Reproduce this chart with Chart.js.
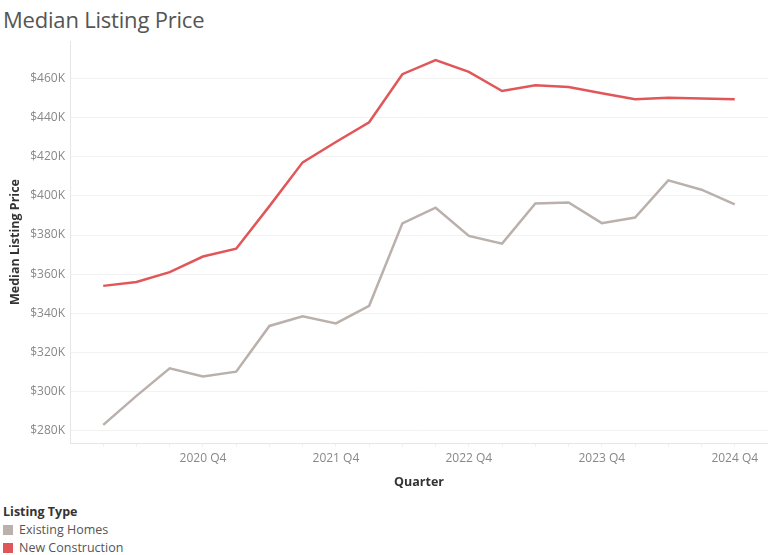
<!DOCTYPE html>
<html>
<head>
<meta charset="utf-8">
<script src="https://cdn.jsdelivr.net/npm/chart.js@4"></script>
<style>
  html, body { margin: 0; padding: 0; background: #fff; }
  body { width: 768px; height: 555px; position: relative; overflow: hidden; font-family: "Open Sans", sans-serif; }
  #title { position: absolute; left: 3px; top: 4px; font-size: 22px; color: #555; font-weight: 400; letter-spacing: -0.2px; }
  #wrap { position: absolute; left: 0; top: 0; width: 768px; height: 500px; }
  #legend { position: absolute; left: 3px; top: 503px; font-size: 12.5px; color: #555; }
  #legend .lt { font-weight: 700; color: #333; height: 18px; line-height: 18px; }
  #legend .it { height: 18px; line-height: 18px; display: flex; align-items: center; }
  #legend .sw { width: 10px; height: 10px; margin-right: 6px; display: inline-block; }
</style>
</head>
<body>
<div id="title">Median Listing Price</div>
<div id="wrap"><canvas id="c" width="768" height="500"></canvas></div>
<div id="legend"></div>
<script>
const quarters = ["2020 Q1","2020 Q2","2020 Q3","2020 Q4","2021 Q1","2021 Q2","2021 Q3","2021 Q4","2022 Q1","2022 Q2","2022 Q3","2022 Q4","2023 Q1","2023 Q2","2023 Q3","2023 Q4","2024 Q1","2024 Q2","2024 Q3","2024 Q4"];
const existingHomes = [282.9, 297.7, 311.8, 307.6, 310.1, 333.5, 338.4, 334.8, 343.8, 386.0, 394.0, 379.6, 375.6, 396.2, 396.7, 386.1, 389.0, 408.0, 403.2, 395.7];
const newConstruction = [354.0, 356.0, 361.0, 369.0, 373.0, 394.8, 417.2, 427.6, 437.7, 462.3, 469.5, 463.5, 453.7, 456.6, 455.8, 452.6, 449.5, 450.3, 449.9, 449.5];
const yTicks = [280, 300, 320, 340, 360, 380, 400, 420, 440, 460];
const seriesNames = ["Existing Homes", "New Construction"];
const seriesColors = ["#BAB0AC", "#E15759"];
const legendTitle = "Listing Type";

const toPts = arr => arr.map((v, i) => ({ x: i, y: v }));

const legend = document.getElementById('legend');
legend.innerHTML = '<div class="lt">' + legendTitle + '</div>' +
  seriesNames.map((n, i) => '<div class="it"><span class="sw" style="background:' + seriesColors[i] + '"></span>' + n + '</div>').join('');

const font = "'Open Sans', sans-serif";
new Chart(document.getElementById('c'), {
  type: 'line',
  data: {
    datasets: [
      { label: seriesNames[0], data: toPts(existingHomes), borderColor: seriesColors[0], borderWidth: 2.5, pointRadius: 0, tension: 0, fill: false },
      { label: seriesNames[1], data: toPts(newConstruction), borderColor: seriesColors[1], borderWidth: 2.5, pointRadius: 0, tension: 0, fill: false }
    ]
  },
  options: {
    responsive: false,
    animation: false,
    layout: { padding: { top: 41, right: 0, left: 0, bottom: 0 } },
    plugins: { legend: { display: false }, tooltip: { enabled: false } },
    scales: {
      x: {
        type: 'linear',
        min: -1,
        max: quarters.length,
        afterBuildTicks: axis => { axis.ticks = quarters.map((q, i) => ({ value: i })); },
        afterFit: axis => { axis.height = 57; },
        ticks: {
          autoSkip: false,
          maxRotation: 0,
          padding: 4,
          color: '#888',
          font: { family: font, size: 12 },
          callback: (v) => { const q = quarters[v]; return q && q.endsWith('Q4') ? q : ''; }
        },
        grid: { drawOnChartArea: false, drawTicks: true, tickLength: 4, color: '#f0f0f0' },
        border: { color: '#e6e6e6' },
        title: { display: true, text: 'Quarter', color: '#333', font: { family: font, size: 12.5, weight: '700' }, padding: { top: 4, bottom: 10 } }
      },
      y: {
        min: 273.6,
        max: 479.3,
        afterBuildTicks: axis => { axis.ticks = yTicks.map(v => ({ value: v })); },
        afterFit: axis => { axis.width = 70; },
        ticks: {
          padding: 5,
          color: '#888',
          font: { family: font, size: 12 },
          callback: v => '$' + v + 'K'
        },
        grid: { color: '#f2f2f2', drawTicks: false, tickLength: 0 },
        border: { color: '#e6e6e6' },
        title: { display: true, text: 'Median Listing Price', color: '#333', font: { family: font, size: 12.5, weight: '700' }, padding: { top: 8, bottom: 0 } }
      }
    }
  }
});
</script>
</body>
</html>
